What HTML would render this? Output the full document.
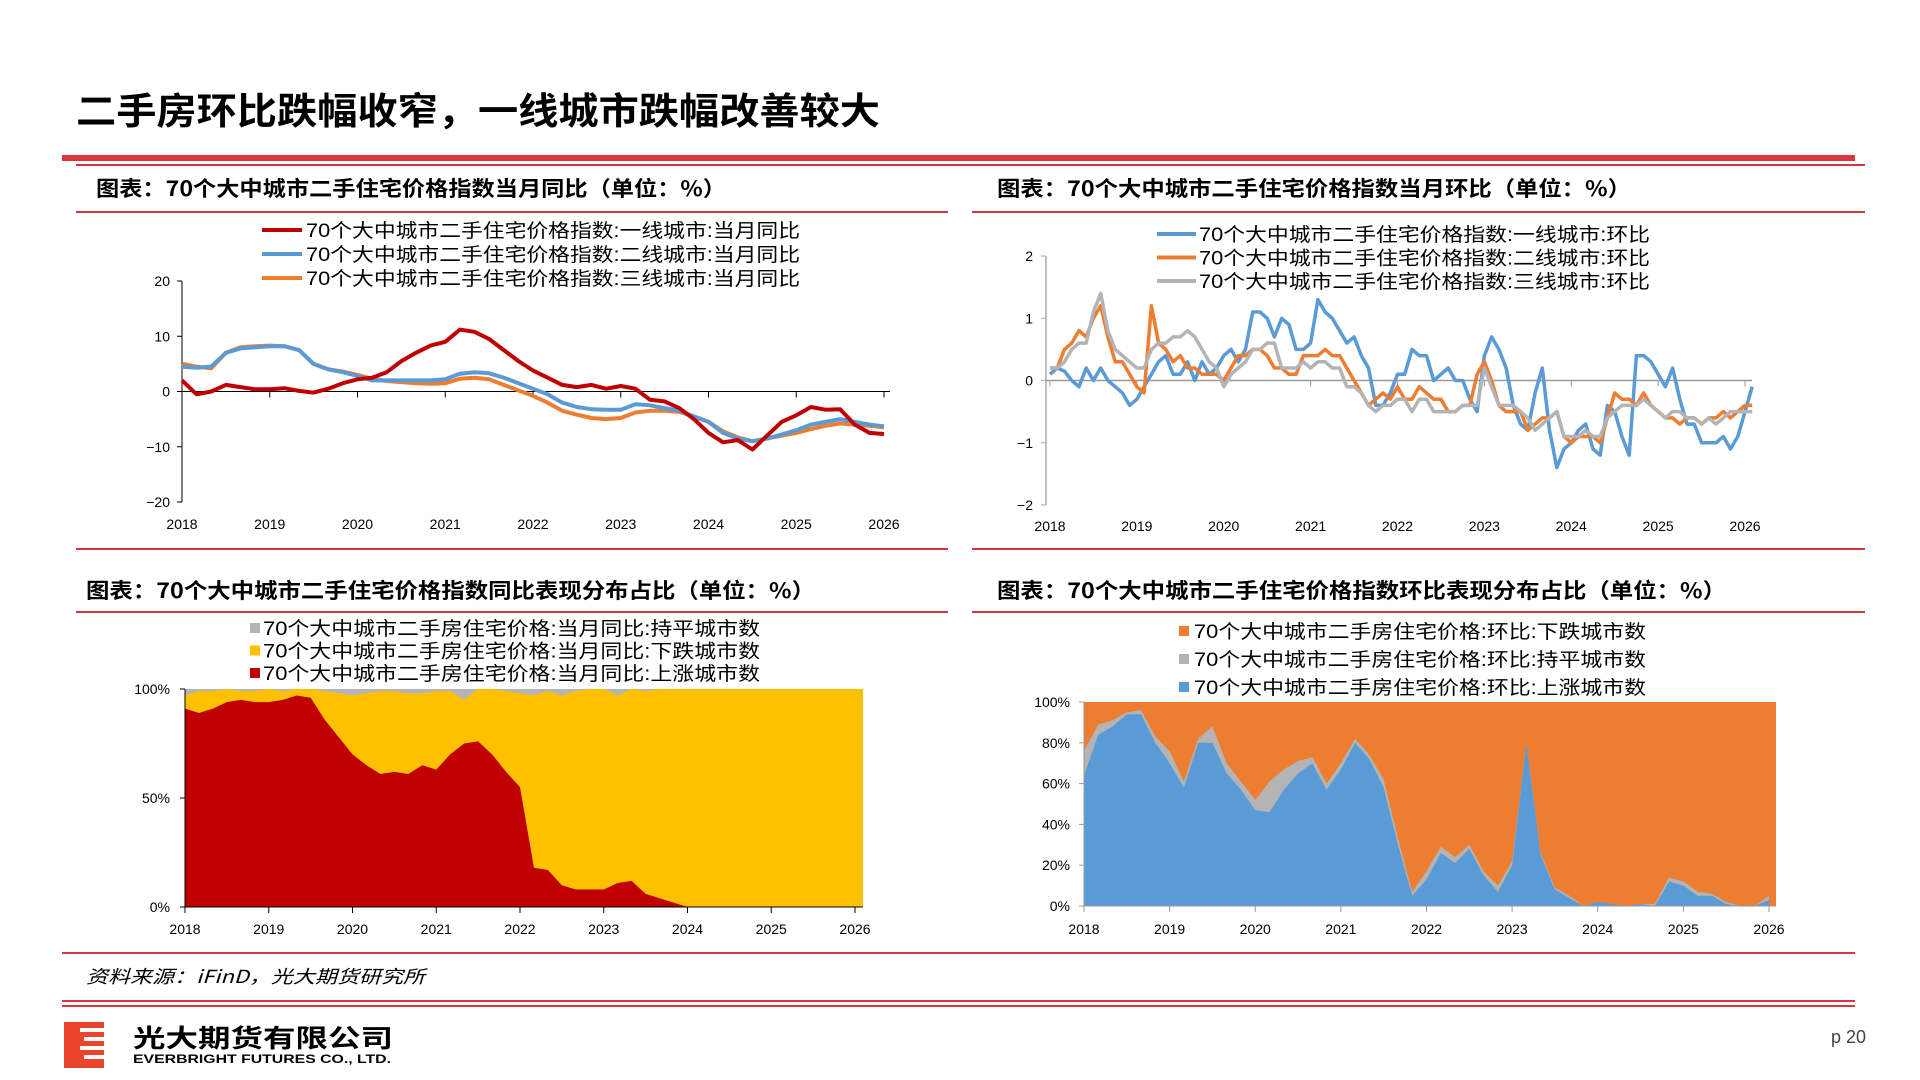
<!DOCTYPE html>
<html><head><meta charset="utf-8"><style>
html,body{margin:0;padding:0;background:#fff;}
svg{display:block;font-family:"Liberation Sans","Noto Sans CJK SC",sans-serif;}
</style></head><body>
<svg id="s" width="1920" height="1080" viewBox="0 0 1920 1080">
<text x="76" y="124" font-size="37" font-weight="bold" font-family="Noto Sans CJK SC, sans-serif" textLength="804" lengthAdjust="spacingAndGlyphs">二手房环比跌幅收窄，一线城市跌幅改善较大</text>
<rect x="62" y="155" width="1793" height="6" fill="#d9363e"/>
<rect x="76" y="164" width="1789" height="2" fill="#d9363e"/>
<text x="96" y="196" font-size="21" font-weight="bold" font-family="Noto Sans CJK SC, sans-serif" textLength="630" lengthAdjust="spacingAndGlyphs">图表：70个大中城市二手住宅价格指数当月同比（单位：%）</text>
<text x="997" y="196" font-size="21" font-weight="bold" font-family="Noto Sans CJK SC, sans-serif" textLength="634" lengthAdjust="spacingAndGlyphs">图表：70个大中城市二手住宅价格指数当月环比（单位：%）</text>
<rect x="76" y="211" width="872" height="2" fill="#d9363e"/>
<rect x="972" y="211" width="893" height="2" fill="#d9363e"/>
<rect x="76" y="548" width="872" height="2" fill="#d9363e"/>
<rect x="972" y="548" width="893" height="2" fill="#d9363e"/>
<text x="86" y="598" font-size="21" font-weight="bold" font-family="Noto Sans CJK SC, sans-serif" textLength="729" lengthAdjust="spacingAndGlyphs">图表：70个大中城市二手住宅价格指数同比表现分布占比（单位：%）</text>
<text x="997" y="598" font-size="21" font-weight="bold" font-family="Noto Sans CJK SC, sans-serif" textLength="729" lengthAdjust="spacingAndGlyphs">图表：70个大中城市二手住宅价格指数环比表现分布占比（单位：%）</text>
<rect x="76" y="611" width="872" height="2" fill="#d9363e"/>
<rect x="972" y="611" width="893" height="2" fill="#d9363e"/>
<rect x="62" y="952" width="1793" height="2" fill="#d9363e"/>
<text x="86" y="983" font-size="18" font-style="italic" font-family="Noto Sans CJK SC, sans-serif" textLength="339" lengthAdjust="spacingAndGlyphs">资料来源：iFinD，光大期货研究所</text>
<rect x="62" y="1000" width="1793" height="2" fill="#d9363e"/>
<rect x="62" y="1005" width="1793" height="2" fill="#d9363e"/>
<g>
<rect x="64" y="1022" width="40" height="46" fill="#e8452c"/>
<rect x="80" y="1028" width="31" height="4" fill="#fff"/>
<rect x="84" y="1037" width="27" height="4" fill="#fff"/>
<rect x="80" y="1046" width="31" height="4" fill="#fff"/>
<rect x="84" y="1055" width="27" height="4" fill="#fff"/>
</g>
<text x="133" y="1047" font-size="25" font-weight="bold" font-family="Noto Sans CJK SC, sans-serif" textLength="260" lengthAdjust="spacingAndGlyphs">光大期货有限公司</text>
<text x="133" y="1063" font-size="12" font-weight="bold" textLength="258" lengthAdjust="spacingAndGlyphs">EVERBRIGHT FUTURES CO., LTD.</text>
<text x="1831" y="1043" font-size="18" fill="#444">p 20</text>
<g id="c1"></g>
<g id="c2"></g>
<g id="c3"></g>
<g id="c4"></g>
</svg>
<script>
// ---- Chart 1 data (every 2 months from 2018-01) ----
const c1Tier1 = [2,-0.5,0,1.2,0.8,0.4, 0.4,0.6,0.1,-0.2,0.5,1.5, 2.2,2.5,3.5,5.5,7,8.3, 9,11.2,10.8,9.5,7.5,5.5, 3.8,2.5,1.2,0.8,1.2,0.5, 1,0.5,-1.5,-1.8,-3,-5, -7.5,-9.2,-8.8,-10.5,-8,-5.5, -4.3,-2.8,-3.3,-3.2,-6,-7.5, -7.7];
const c1Tier2 = [4.5,4.3,4.5,7,7.8,8, 8.2,8.2,7.5,5,4,3.5, 2.8,2,2,2,2,2, 2.2,3.2,3.5,3.3,2.5,1.5, 0.5,-0.5,-2,-2.8,-3.2,-3.3, -3.3,-2.3,-2.5,-3,-3.5,-4.5, -5.5,-7.5,-8.5,-9,-8.5,-7.8, -7,-6,-5.5,-5,-5.5,-6, -6.3];
const c1Tier3 = [5,4.5,4.2,7,8,8.2, 8.3,8.2,7.5,5,4,3.6, 3,2.3,1.9,1.7,1.5,1.4, 1.5,2.3,2.5,2.2,1.2,0.2, -0.8,-2,-3.5,-4.2,-4.8,-5, -4.8,-3.8,-3.5,-3.5,-3.7,-4.5, -5.5,-7.2,-8.3,-9,-8.5,-8, -7.5,-6.8,-6.2,-5.8,-6,-6.2, -6.5];
const c1YTicks = [20,10,0,-10,-20];
const yearTicks = [2018,2019,2020,2021,2022,2023,2024,2025,2026];
const c1Legend = ["70个大中城市二手住宅价格指数:一线城市:当月同比","70个大中城市二手住宅价格指数:二线城市:当月同比","70个大中城市二手住宅价格指数:三线城市:当月同比"];
// ---- Chart 2 data (monthly from 2018-01) ----
const c2Tier1 = [0.1,0.2,0.15,0,-0.1,0.2,0,0.2,0,-0.1,-0.2,-0.4, -0.3,-0.1,0.1,0.3,0.4,0.1,0.1,0.3,0,0.3,0.1,0.2, 0.4,0.5,0.3,0.5,1.1,1.1,1.0,0.7,1.0,0.9,0.5,0.5, 0.6,1.3,1.1,1.0,0.8,0.6,0.7,0.4,0.2,-0.4,-0.4,-0.2, 0.1,0.1,0.5,0.4,0.4,0,0.1,0.2,0,0,-0.3,-0.5, 0.4,0.7,0.5,0.2,-0.4,-0.7,-0.8,-0.2,0.2,-0.8,-1.4,-1.1, -1.0,-0.8,-0.7,-1.1,-1.2,-0.4,-0.5,-0.9,-1.2,0.4,0.4,0.3, 0.1,-0.1,0.2,-0.3,-0.7,-0.7,-1.0,-1.0,-1.0,-0.9,-1.1,-0.9, -0.5,-0.1];
const c2Tier2 = [0.2,0.2,0.5,0.6,0.8,0.7,1.0,1.2,0.7,0.3,0.3,0.1, -0.1,-0.2,1.2,0.6,0.5,0.3,0.4,0.2,0.2,0.1,0.1,0.1, 0,0.2,0.4,0.4,0.5,0.5,0.4,0.2,0.2,0.1,0.1,0.4, 0.4,0.4,0.5,0.4,0.4,0.2,0,-0.2,-0.4,-0.3,-0.2,-0.3, -0.1,-0.3,-0.3,-0.1,-0.2,-0.3,-0.3,-0.5,-0.5,-0.4,-0.4,0.1, 0.3,0,-0.4,-0.5,-0.5,-0.5,-0.8,-0.7,-0.6,-0.6,-0.5,-0.9, -1.0,-0.9,-0.9,-0.9,-1.0,-0.6,-0.2,-0.3,-0.3,-0.4,-0.2,-0.4, -0.5,-0.6,-0.6,-0.7,-0.6,-0.6,-0.7,-0.6,-0.6,-0.5,-0.6,-0.5, -0.4,-0.4];
const c2Tier3 = [0.2,0.2,0.3,0.5,0.6,0.6,1.1,1.4,0.8,0.5,0.4,0.3, 0.2,0.2,0.5,0.6,0.6,0.7,0.7,0.8,0.7,0.5,0.3,0.2, -0.1,0.1,0.2,0.3,0.5,0.5,0.6,0.6,0.2,0.2,0.2,0.3, 0.2,0.3,0.3,0.2,0.2,-0.1,-0.1,-0.2,-0.4,-0.5,-0.4,-0.4, -0.3,-0.3,-0.5,-0.3,-0.3,-0.5,-0.5,-0.5,-0.5,-0.4,-0.4,-0.4, 0.2,-0.1,-0.4,-0.4,-0.4,-0.5,-0.6,-0.8,-0.7,-0.6,-0.5,-0.9, -0.9,-0.9,-0.8,-0.9,-0.9,-0.6,-0.5,-0.4,-0.4,-0.4,-0.3,-0.4, -0.5,-0.6,-0.5,-0.5,-0.6,-0.6,-0.7,-0.6,-0.7,-0.6,-0.5,-0.5, -0.5,-0.5];
const c2YTicks = [2,1,0,-1,-2];
const c2Legend = ["70个大中城市二手住宅价格指数:一线城市:环比","70个大中城市二手住宅价格指数:二线城市:环比","70个大中城市二手住宅价格指数:三线城市:环比"];
// ---- Chart 3 data (every 2 months, % of cities) ----
const c3Up = [91,89,91,94,95,94, 94,95,97,96,86,78, 70,65,61,62,61,65, 63,70,75,76,70,62, 55,18,17,10,8,8, 8,11,12,6,4,2, 0,0,0,0,0,0, 0,0,0,0,0,0, 0];
const c3Flat = [3,1,1,0,1,1, 0,1,0,0,1,2, 3,2,1,1,2,2, 1,1,5,0,0,1, 2,3,1,3,1,0, 0,3,0,1,0,0, 0,0,0,0,0,0, 0,0,0,0,0,0, 0];
const c3YTicks = ["100%","50%","0%"];
const c3Legend = ["70个大中城市二手房住宅价格:当月同比:持平城市数","70个大中城市二手房住宅价格:当月同比:下跌城市数","70个大中城市二手房住宅价格:当月同比:上涨城市数"];
// ---- Chart 4 data (every 2 months, % of cities) ----
const c4Up = [64,84,88,94,94,80, 70,58,80,80,65,57, 47,46,57,65,70,57, 67,80,72,58,30,5, 13,26,21,28,15,7, 20,80,25,8,4,0, 2,1,0,1,0,12, 10,5,5,1,0,0, 3];
const c4Flat = [12,5,3,1,2,3, 6,3,2,8,5,4, 5,15,10,6,3,3, 3,2,2,4,3,2, 4,3,3,2,2,3, 2,0,1,1,1,0, 0,0,0,0,1,2, 2,2,1,1,0,0, 2];
const c4YTicks = ["100%","80%","60%","40%","20%","0%"];
const c4Legend = ["70个大中城市二手房住宅价格:环比:下跌城市数","70个大中城市二手房住宅价格:环比:持平城市数","70个大中城市二手房住宅价格:环比:上涨城市数"];

const NS="http://www.w3.org/2000/svg";
function mk(parent,tag,attrs,text){const e=document.createElementNS(NS,tag);for(const k in attrs)e.setAttribute(k,attrs[k]);if(text!==undefined)e.textContent=text;parent.appendChild(e);return e;}
function scale(d0,d1,r0,r1){return v=>r0+(v-d0)/(d1-d0)*(r1-r0);}

// ===== Chart 1 =====
(function(){
  const g=document.getElementById('c1');
  const x=scale(2018,2026,182,884), y=scale(-20,20,502,281);
  const ax=mk(g,'line',{x1:182,y1:281,x2:182,y2:502,stroke:'#000','stroke-width':1});
  
  
  c1YTicks.forEach(v=>{
    mk(g,'line',{x1:177,y1:y(v),x2:182,y2:y(v),stroke:'#000'});
    const t=mk(g,'text',{x:170,y:y(v)+5,'font-size':14,'text-anchor':'end'},v<0?'−'+(-v):String(v));
    
    
  });
  const zl=mk(g,'line',{x1:182,y1:y(0),x2:890,y2:y(0),stroke:'#000','stroke-width':1});
  
  
  yearTicks.forEach(yr=>{
    mk(g,'line',{x1:x(yr),y1:y(0),x2:x(yr),y2:y(0)+6,stroke:'#000'});
    const t=mk(g,'text',{x:x(yr),y:529,'font-size':14,'text-anchor':'middle'},String(yr));
    
    
  });
  const series=[[c1Tier1,'#c00000','tier1'],[c1Tier2,'#5b9bd5','tier2'],[c1Tier3,'#ed7d31','tier3']];
  [2,1,0].forEach(k=>{
    const [d,c,n]=series[k];
    const p=mk(g,'polyline',{points:d.map((v,i)=>x(2018+i/6).toFixed(1)+','+y(v).toFixed(1)).join(' '),fill:'none',stroke:c,'stroke-width':4,'stroke-linejoin':'round'});
    
    
  });
  series.forEach((s,i)=>{
    const ly=230+i*24;
    const l=mk(g,'line',{x1:262,y1:ly,x2:302,y2:ly,stroke:s[1],'stroke-width':4});
    
    
    const t=mk(g,'text',{x:306,y:ly+7,'font-size':19,textLength:494,lengthAdjust:'spacingAndGlyphs'},c1Legend[i]);
    
    
  });
})();

// ===== Chart 2 =====
(function(){
  const g=document.getElementById('c2');
  const x=scale(2018,2026,1050,1745), y=scale(-2,2,505,256);
  const ax=mk(g,'line',{x1:1046,y1:256,x2:1046,y2:505,stroke:'#aaa','stroke-width':1.5});
  
  
  c2YTicks.forEach(v=>{
    mk(g,'line',{x1:1041,y1:y(v),x2:1046,y2:y(v),stroke:'#aaa'});
    const t=mk(g,'text',{x:1033,y:y(v)+5,'font-size':14,'text-anchor':'end'},v<0?'−'+(-v):String(v));
    
    
  });
  const zl=mk(g,'line',{x1:1046,y1:y(0),x2:1752,y2:y(0),stroke:'#999','stroke-width':1.5});
  
  
  yearTicks.forEach(yr=>{
    mk(g,'line',{x1:x(yr),y1:y(0),x2:x(yr),y2:y(0)+6,stroke:'#999'});
    const t=mk(g,'text',{x:x(yr),y:531,'font-size':14,'text-anchor':'middle'},String(yr));
    
    
  });
  const series=[[c2Tier1,'#5b9bd5','tier1'],[c2Tier2,'#ed7d31','tier2'],[c2Tier3,'#b4b4b4','tier3']];
  series.forEach(([d,c,n])=>{
    const p=mk(g,'polyline',{points:d.map((v,i)=>x(2018+i/12).toFixed(1)+','+y(v).toFixed(1)).join(' '),fill:'none',stroke:c,'stroke-width':3.5,'stroke-linejoin':'round'});
    
    
  });
  series.forEach((s,i)=>{
    const ly=234+i*23.5;
    const l=mk(g,'line',{x1:1157,y1:ly,x2:1196,y2:ly,stroke:s[1],'stroke-width':4});
    
    
    const t=mk(g,'text',{x:1199,y:ly+7,'font-size':19,textLength:451,lengthAdjust:'spacingAndGlyphs'},c2Legend[i]);
    
    
  });
})();

// ===== Chart 3 =====
(function(){
  const g=document.getElementById('c3');
  const x=scale(2018,2026,185,855), y=scale(0,100,907,689);
  const bg=mk(g,'rect',{x:185,y:689,width:678,height:218,fill:'#ffc000'});
  
  
  const n=c3Up.length, xe=i=>x(2018+i/6);
  let top=c3Flat.map((v,i)=>xe(i)+','+y(100-v)).join(' ');
  const gp=mk(g,'polygon',{points:xe(0)+','+y(100)+' '+top+' '+xe(n-1)+','+y(100),fill:'#b4b4b4'});
  
  
  let up=c3Up.map((v,i)=>xe(i)+','+y(v)).join(' ');
  const rp=mk(g,'polygon',{points:xe(0)+','+y(0)+' '+up+' '+xe(n-1)+','+y(0),fill:'#c00000'});
  
  
  mk(g,'line',{x1:185,y1:689,x2:185,y2:907,stroke:'#000'});
  mk(g,'line',{x1:185,y1:907,x2:863,y2:907,stroke:'#000'});
  [100,50,0].forEach((v,i)=>{
    mk(g,'line',{x1:180,y1:y(v),x2:185,y2:y(v),stroke:'#000'});
    const t=mk(g,'text',{x:170,y:y(v)+5,'font-size':14,'text-anchor':'end'},c3YTicks[i]);
    
    
  });
  yearTicks.forEach(yr=>{
    mk(g,'line',{x1:x(yr),y1:907,x2:x(yr),y2:913,stroke:'#000'});
    const t=mk(g,'text',{x:x(yr),y:934,'font-size':14,'text-anchor':'middle'},String(yr));
    
    
  });
  const cols=['#b4b4b4','#ffc000','#c00000'];
  c3Legend.forEach((s,i)=>{
    const ly=628+i*22.5;
    const r=mk(g,'rect',{x:250,y:ly-5,width:10,height:10,fill:cols[i]});
    
    
    const t=mk(g,'text',{x:263,y:ly+7,'font-size':19,textLength:497,lengthAdjust:'spacingAndGlyphs'},s);
    
    
  });
})();

// ===== Chart 4 =====
(function(){
  const g=document.getElementById('c4');
  const x=scale(2018,2026,1084,1769), y=scale(0,100,906,702);
  const bg=mk(g,'rect',{x:1084,y:702,width:692,height:204,fill:'#ed7d31'});
  
  
  const n=c4Up.length, xe=i=>x(2018+i/6);
  let gtop=c4Up.map((v,i)=>xe(i)+','+y(v+c4Flat[i])).join(' ');
  const gp=mk(g,'polygon',{points:xe(0)+','+y(0)+' '+gtop+' '+xe(n-1)+','+y(0),fill:'#b4b4b4'});
  
  
  let up=c4Up.map((v,i)=>xe(i)+','+y(v)).join(' ');
  const bp=mk(g,'polygon',{points:xe(0)+','+y(0)+' '+up+' '+xe(n-1)+','+y(0),fill:'#5b9bd5'});
  
  
  mk(g,'line',{x1:1084,y1:702,x2:1084,y2:906,stroke:'#999'});
  mk(g,'line',{x1:1084,y1:906,x2:1776,y2:906,stroke:'#999'});
  [100,80,60,40,20,0].forEach((v,i)=>{
    mk(g,'line',{x1:1079,y1:y(v),x2:1084,y2:y(v),stroke:'#999'});
    const t=mk(g,'text',{x:1070,y:y(v)+5,'font-size':14,'text-anchor':'end'},c4YTicks[i]);
    
    
  });
  yearTicks.forEach(yr=>{
    mk(g,'line',{x1:x(yr),y1:906,x2:x(yr),y2:912,stroke:'#999'});
    const t=mk(g,'text',{x:x(yr),y:934,'font-size':14,'text-anchor':'middle'},String(yr));
    
    
  });
  const cols=['#ed7d31','#b4b4b4','#5b9bd5'];
  c4Legend.forEach((s,i)=>{
    const ly=631+i*28;
    const r=mk(g,'rect',{x:1179,y:ly-5,width:10,height:10,fill:cols[i]});
    
    
    const t=mk(g,'text',{x:1194,y:ly+7,'font-size':19,textLength:452,lengthAdjust:'spacingAndGlyphs'},s);
    
    
  });
})();
</script>
</body></html>
